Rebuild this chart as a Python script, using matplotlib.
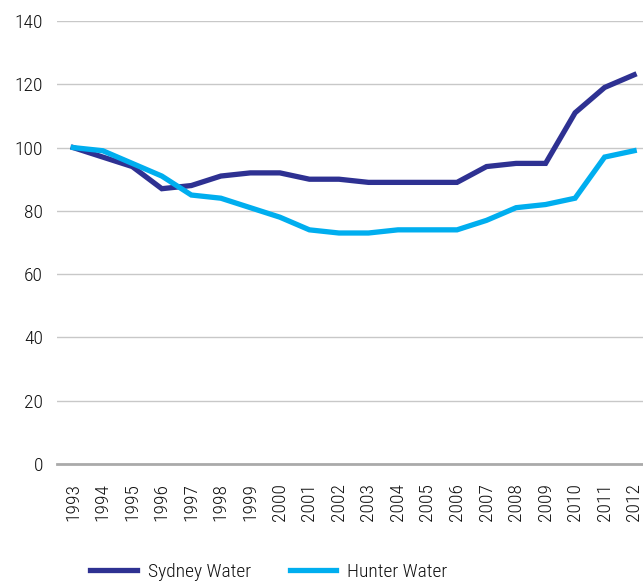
import matplotlib
matplotlib.use("Agg")
import matplotlib.pyplot as plt
from matplotlib import font_manager

years = [str(y) for y in range(1993, 2013)]
sydney_water = [100, 97, 94, 87, 88, 91, 92, 92, 90, 90, 89, 89, 89, 89, 94, 95, 95, 111, 119, 123]
hunter_water = [100, 99, 95, 91, 85, 84, 81, 78, 74, 73, 73, 74, 74, 74, 77, 81, 82, 84, 97, 99]
y_ticks = [0, 20, 40, 60, 80, 100, 120, 140]

names = {f.name for f in font_manager.fontManager.ttflist}
fam = ["Roboto Condensed", "Liberation Sans Narrow", "Liberation Sans", "DejaVu Sans"]
fam = [f for f in fam if f in names] or ["DejaVu Sans"]
plt.rcParams['font.family'] = fam
plt.rcParams['font.weight'] = 'light'

fig = plt.figure(figsize=(6.43, 5.84), dpi=100)
ax = fig.add_axes([57/643, 120/584, 586/643, 443/584])

x = list(range(len(years)))
ax.plot(x, sydney_water, color="#2e3192", lw=3.8, label="Sydney Water", solid_joinstyle="miter")
ax.plot(x, hunter_water, color="#00aeef", lw=3.8, label="Hunter Water", solid_joinstyle="miter")

ax.set_ylim(0, 140)
ax.set_xlim(-0.55, 19.3)
ax.set_yticks(y_ticks)
ax.set_xticks(x)
ax.set_xticklabels(years, rotation=90)
ax.grid(axis="y", color="#c8c8c8", lw=1.0)
ax.set_axisbelow(True)
for s in ["top", "right", "left"]:
    ax.spines[s].set_visible(False)
ax.spines["bottom"].set_color("#aaaaaa")
ax.spines["bottom"].set_linewidth(2)
ax.tick_params(axis="both", length=0, labelsize=14, colors="#111111")
ax.tick_params(axis="y", pad=10)
ax.tick_params(axis="x", pad=14)

leg = fig.legend(loc="center", bbox_to_anchor=(0.418, 0.021), ncol=2, frameon=False,
                 fontsize=14, handlelength=2.4, handletextpad=0.55, columnspacing=2.0)
for t in leg.get_texts():
    t.set_color("#111111")

fig.savefig("out.png", dpi=100)
